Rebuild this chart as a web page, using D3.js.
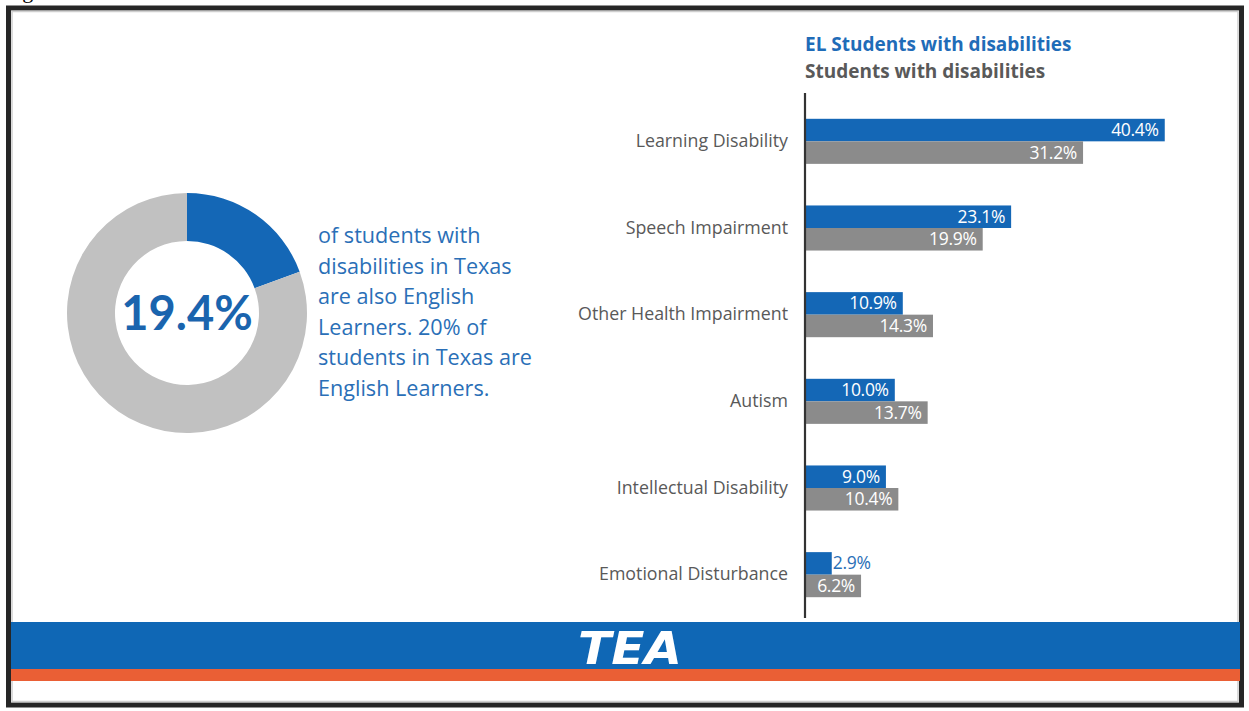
<!DOCTYPE html>
<html>
<head>
<meta charset="utf-8">
<script src="https://cdn.jsdelivr.net/npm/d3@7"></script>
<style>
  html, body { margin: 0; padding: 0; background: #ffffff; }
  svg { display: block; }
  text { font-family: "Open Sans", Lato, sans-serif; }
</style>
</head>
<body>
<svg id="chart" width="1249" height="711"></svg>
<script>
// Disability categories and percentages for the two student groups
const categories = [
  "Learning Disability",
  "Speech Impairment",
  "Other Health Impairment",
  "Autism",
  "Intellectual Disability",
  "Emotional Disturbance"
];
const elValues = [40.4, 23.1, 10.9, 10.0, 9.0, 2.9];
const swdValues = [31.2, 19.9, 14.3, 13.7, 10.4, 6.2];
const seriesNames = ["EL Students with disabilities", "Students with disabilities"];

// Share of students with disabilities who are English Learners
const elShare = 19.4;
const summaryLines = [
  "of students with",
  "disabilities in Texas",
  "are also English",
  "Learners. 20% of",
  "students in Texas are",
  "English Learners."
];

const BLUE = "#1467b6";
const GRAY_BAR = "#8b8b8b";
const GRAY_RING = "#c1c1c1";
const TEXT_GRAY = "#595959";
const TEXT_BLUE = "#2a6fb7";

const svg = d3.select("#chart");

// Caption fragment above the frame
svg.append("text")
  .attr("x", 4).attr("y", -2)
  .style("font-family", "'Liberation Serif', serif")
  .style("font-size", "22px")
  .attr("fill", "#000")
  .text("Figure 4");

// Slide frame
svg.append("rect")
  .attr("x", 8.5).attr("y", 8).attr("width", 1233).attr("height", 697)
  .attr("fill", "#fff").attr("stroke", "#262626").attr("stroke-width", 5);
svg.append("rect")
  .attr("x", 12).attr("y", 11.5).attr("width", 1226).attr("height", 690)
  .attr("fill", "none").attr("stroke", "#cfcfcf").attr("stroke-width", 1.5);

// ---- Donut ----
const cx = 187, cy = 313;
const pie = d3.pie().sort(null).value(d => d);
const arc = d3.arc().innerRadius(72).outerRadius(120);
const donut = svg.append("g").attr("transform", `translate(${cx},${cy})`);
donut.selectAll("path")
  .data(pie([elShare, 100 - elShare]))
  .join("path")
  .attr("d", arc)
  .attr("fill", (d, i) => i === 0 ? BLUE : GRAY_RING);

donut.append("text")
  .attr("text-anchor", "middle")
  .attr("y", 17)
  .style("font-family", "Lato, sans-serif")
  .style("font-size", "47px")
  .style("font-weight", "bold")
  .attr("fill", "#1a64ae")
  .text(elShare.toFixed(1) + "%");

// Summary paragraph
svg.append("g")
  .selectAll("text")
  .data(summaryLines)
  .join("text")
  .attr("x", 318)
  .attr("y", (d, i) => 243 + i * 30.6)
  .style("font-size", "21.6px")
  .attr("fill", TEXT_BLUE)
  .text(d => d);

// ---- Bar chart ----
const x = d3.scaleLinear().domain([0, 45]).range([806, 806 + 45 * 8.88]);
const y = d3.scaleBand().domain(categories).range([98, 618]).paddingInner(0.48).paddingOuter(0.24);
const sub = d3.scaleBand().domain([0, 1]).range([0, y.bandwidth()]);

const rows = categories.map((c, i) => ({ cat: c, vals: [elValues[i], swdValues[i]] }));
const groups = svg.append("g").selectAll("g")
  .data(rows)
  .join("g")
  .attr("transform", d => `translate(0,${y(d.cat)})`);

groups.selectAll("rect")
  .data(d => d.vals)
  .join("rect")
  .attr("x", x(0))
  .attr("y", (d, i) => sub(i))
  .attr("width", d => x(d) - x(0))
  .attr("height", sub.bandwidth())
  .attr("fill", (d, i) => i === 0 ? BLUE : GRAY_BAR);

groups.selectAll("text.val")
  .data(d => d.vals)
  .join("text")
  .attr("class", "val")
  .each(function (d, i) {
    const inside = x(d) - x(0) > 50;
    d3.select(this)
      .attr("x", inside ? x(d) - 6 : x(d) + 1)
      .attr("text-anchor", inside ? "end" : "start")
      .attr("fill", inside ? "#ffffff" : TEXT_BLUE);
  })
  .attr("y", (d, i) => sub(i) + sub.bandwidth() / 2 + 6)
  .style("font-size", "17.5px")
  .style("letter-spacing", "-0.3px")
  .text(d => d.toFixed(1) + "%");

// Category axis
const axis = svg.append("g")
  .attr("transform", `translate(${x(0) - 1},0)`)
  .call(d3.axisLeft(y).tickSize(0).tickPadding(17));
axis.select(".domain").attr("d", "M0,93V618").attr("stroke", "#333").attr("stroke-width", 2.2);
axis.selectAll(".tick text")
  .style("font-family", "'Open Sans', sans-serif")
  .style("font-size", "17.8px")
  .attr("fill", TEXT_GRAY);

// Legend
svg.append("g")
  .selectAll("text")
  .data(seriesNames)
  .join("text")
  .attr("x", 805)
  .attr("y", (d, i) => 51 + i * 27)
  .style("font-size", "19px")
  .style("font-weight", "bold")
  .attr("fill", (d, i) => i === 0 ? "#1f6cb8" : TEXT_GRAY)
  .text(d => d);

// ---- Footer bands and logo ----
svg.append("rect").attr("x", 11).attr("y", 622).attr("width", 1229).attr("height", 47).attr("fill", "#0f67b5");
svg.append("rect").attr("x", 11).attr("y", 669).attr("width", 1229).attr("height", 12).attr("fill", "#ea5f35");
svg.append("text")
  .attr("x", 578).attr("y", 664)
  .attr("textLength", 104).attr("lengthAdjust", "spacingAndGlyphs")
  .style("font-family", "'DejaVu Sans Condensed', 'DejaVu Sans', sans-serif")
  .style("font-size", "44px")
  .style("font-weight", "bold")
  .style("font-style", "italic")
  .attr("fill", "#ffffff")
  .text("TEA");
</script>
</body>
</html>
